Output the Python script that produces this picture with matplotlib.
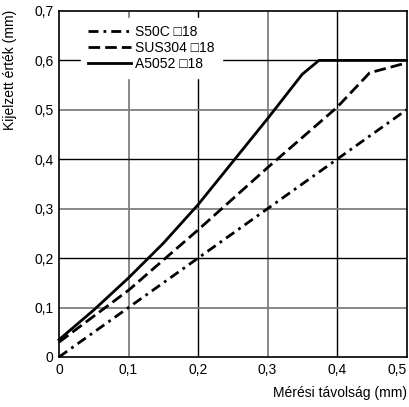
import matplotlib
matplotlib.use("Agg")
import matplotlib.pyplot as plt

plt.rcParams["font.family"] = ["Liberation Sans", "DejaVu Sans"]

# measurement distance (mm) vs displayed value (mm)
x_s50c = [0.0, 0.1, 0.2, 0.3, 0.4, 0.5]
y_s50c = [0.0, 0.1, 0.2, 0.3, 0.4, 0.5]

x_sus304 = [0.0, 0.1, 0.2, 0.3, 0.4, 0.447, 0.5]
y_sus304 = [0.03, 0.135, 0.257, 0.383, 0.505, 0.575, 0.595]

x_a5052 = [0.0, 0.05, 0.1, 0.15, 0.2, 0.25, 0.3, 0.35, 0.374, 0.5]
y_a5052 = [0.035, 0.095, 0.16, 0.23, 0.308, 0.395, 0.482, 0.572, 0.6, 0.6]

labels = ["S50C \u25a118", "SUS304 \u25a118", "A5052 \u25a118"]
xticks = [0, 0.1, 0.2, 0.3, 0.4, 0.5]
yticks = [0, 0.1, 0.2, 0.3, 0.4, 0.5, 0.6, 0.7]

fs = 10

fig = plt.figure(figsize=(4.09, 4.07), dpi=100)
ax = fig.add_axes([0.1443, 0.1229, 0.8496, 0.8501])
ax.set_xlim(0, 0.5)
ax.set_ylim(0, 0.7)

# alternating grey / black grid
for i, xv in enumerate(xticks[1:-1]):
    c = "#7f7f7f" if i % 2 == 0 else "black"
    ax.axvline(xv, color=c, lw=1.3 if c != "black" else 1.0, zorder=1)
for i, yv in enumerate(yticks[1:-1]):
    c = "#7f7f7f" if i % 2 == 0 else "black"
    ax.axhline(yv, color=c, lw=1.3 if c != "black" else 1.0, zorder=1)

lw = 2.0
ax.plot(x_s50c, y_s50c, color="black", lw=lw, linestyle=(0, (3.6, 1.8, 1.0, 1.8)),
        label=labels[0], zorder=3, clip_on=False)
ax.plot(x_sus304, y_sus304, color="black", lw=lw, linestyle=(0, (4.2, 1.8)),
        label=labels[1], zorder=3, clip_on=False)
ax.plot(x_a5052, y_a5052, color="black", lw=lw, linestyle="-",
        label=labels[2], zorder=3, clip_on=False)

ax.set_xticks(xticks)
ax.set_yticks(yticks)
ax.set_xticklabels([("%g" % v).replace(".", ",") for v in xticks])
ax.set_yticklabels([("%g" % v).replace(".", ",") for v in yticks])
ax.tick_params(length=0, labelsize=fs, pad=4)
ax.get_xticklabels()[-1].set_horizontalalignment("right")
for s in ax.spines.values():
    s.set_linewidth(1.2)

leg = ax.legend(loc="upper left", bbox_to_anchor=(0.062, 0.98), frameon=True,
                fontsize=fs, handlelength=3.1, handletextpad=0.35,
                labelspacing=0.15, borderpad=0.5, borderaxespad=0)
leg.get_frame().set_facecolor("white")
leg.get_frame().set_edgecolor("white")
leg.get_frame().set_alpha(1)
leg.get_frame().set_boxstyle("square", pad=0)
leg.set_zorder(2)

ax.set_xlabel("Mérési távolság (mm)", fontsize=fs, loc="right", labelpad=7)
fig.text(0.024, 0.975, "Kijelzett érték (mm)", rotation=90, ha="center",
         va="top", fontsize=fs)

fig.savefig("out.png", dpi=100)
